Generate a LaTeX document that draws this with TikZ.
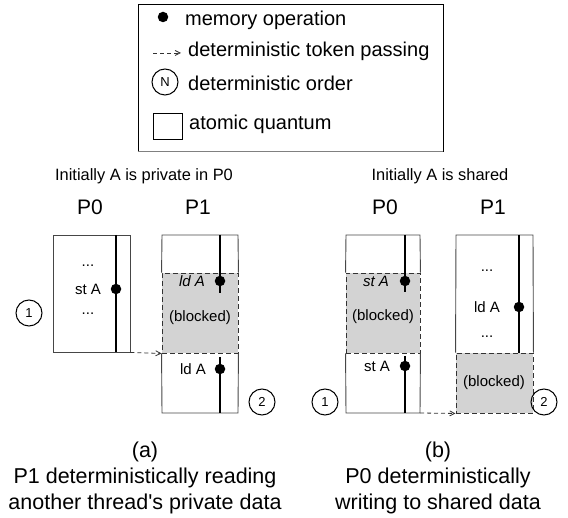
\documentclass[tikz,border=0pt]{standalone}
\usepackage{fontspec}
\setmainfont{Liberation Sans}
\newfontfamily\plainsans{Liberation Sans}
\usetikzlibrary{arrows.meta}
\definecolor{blkgray}{RGB}{211,211,211}
\definecolor{edge}{RGB}{70,70,70}
\begin{document}
\begin{tikzpicture}[x=1pt,y=-1pt,
  boxline/.style={draw=edge, line width=0.9pt},
  thread/.style={line width=1.8pt},
  blockbox/.style={fill=blkgray, draw=black!80, line width=0.9pt, dash pattern=on 5pt off 3pt, inner sep=0pt},
  plainbox/.style={inner sep=0pt},
  opdot/.style={circle, fill=black, inner sep=0pt, minimum size=10.5pt},
  order/.style={circle, draw, line width=1pt, inner sep=0pt, minimum size=26pt, font=\fontsize{13}{15}\selectfont},
  token/.style={draw=black!80, line width=0.8pt, dash pattern=on 4pt off 3pt, -{Straight Barb[length=5pt,width=5pt]}},
  legtxt/.style={anchor=base west, inner sep=0pt, font=\fontsize{20}{24}\selectfont},
  optxt/.style={inner sep=0pt, font=\fontsize{15}{18}\selectfont},
  head/.style={anchor=base, inner sep=0pt, font=\fontsize{16.4}{20}\selectfont},
  proc/.style={anchor=base, inner sep=0pt, font=\fontsize{21}{25}\selectfont},
  capt/.style={anchor=base, inner sep=0pt, font=\plainsans\fontsize{21.5}{26}\selectfont}]
\useasboundingbox (0,0) rectangle (568,518);

% ---------- legend ----------
\node[draw=black, line width=0.9pt, inner sep=0pt, minimum width=305pt, minimum height=147pt] (legend) at (290.5,77.5) {};
\draw[draw=gray, line width=1.6pt] (legend.south west) -- (legend.south east);
\node[opdot] (ldot) at (163,17) {};
\node[legtxt] (lt1) at (185,26) {memory operation};
\coordinate (la1) at (153,53);
\coordinate (la2) at (181,53);
\draw[token] (la1) -- (la2);
\node[legtxt] (lt2) at (188,57) {deterministic token passing};
\node[order] (lN) at (165,82) {N};
\node[legtxt] (lt3) at (188,91) {deterministic order};
\node[draw=black, line width=0.9pt, inner sep=0pt, minimum width=29pt, minimum height=26pt] (lsq) at (167.5,126) {};
\node[legtxt] (lt4) at (189,130) {atomic quantum};

% ---------- (a) ----------
\node[head] (ha) at (144,181) {Initially A is private in P0};
\node[proc] (pa0) at (90,215) {P0};
\node[proc] (pa1) at (198,215) {P1};

% P0 box
\node[boxline, plainbox, minimum width=77pt, minimum height=117pt] (p0a) at (91.5,293.5) {};
\draw[thread] (116,235) -- (116,352);
\node[opdot] (d0a) at (116,289) {};
\node[optxt] (t0a1) at (88,266) {...};
\node[optxt] (t0a2) at (88,289) {st A};
\node[optxt] (t0a3) at (88,314) {...};

% P1 box
\node[blockbox, minimum width=76pt, minimum height=80pt] (bla) at (200,313) {};
\draw[boxline] (bla.north west) -- (162,235) -- (238,235) -- (bla.north east);
\draw[boxline] (bla.south west) -- (162,413) -- (238,413) -- (bla.south east);
\draw[thread] (220,235) -- (220,293);
\draw[thread] (220,357) -- (220,413);
\node[opdot] (d1a1) at (220,281) {};
\node[opdot] (d1a2) at (220,369) {};
\node[optxt, font=\fontsize{15}{18}\selectfont\itshape] (t1a1) at (192,281) {ld A};
\node[optxt] (t1a2) at (200,318) {(blocked)};
\node[optxt] (t1a3) at (193,369) {ld A};

\draw[token] (p0a.south east) -- (bla.south west);
\node[order] (o1a) at (29,313) {1};
\node[order] (o2a) at (262,402) {2};

\node[capt] (ca1) at (145,458) {(a)};
\node[capt] (ca2) at (145,484) {P1 deterministically reading};
\node[capt] (ca3) at (145,510) {another thread's private data};

% ---------- (b) ----------
\node[head] (hb) at (440,181) {Initially A is shared};
\node[proc] (pb0) at (385,215) {P0};
\node[proc] (pb1) at (493,215) {P1};

% P0 box
\node[blockbox, minimum width=74pt, minimum height=80pt] (blb0) at (383,313) {};
\draw[boxline] (blb0.north west) -- (346,235) -- (420,235) -- (blb0.north east);
\draw[boxline] (blb0.south west) -- (346,413) -- (420,413) -- (blb0.south east);
\coordinate (p0bse) at (420,413);
\draw[thread] (405,235) -- (405,292);
\draw[thread] (405,356) -- (405,413);
\node[opdot] (d0b1) at (405,281) {};
\node[opdot] (d0b2) at (405,366) {};
\node[optxt, font=\fontsize{15}{18}\selectfont\itshape] (t0b1) at (376,281) {st A};
\node[optxt] (t0b2) at (383,317) {(blocked)};
\node[optxt] (t0b3) at (377,366) {st A};

% P1 box
\node[blockbox, minimum width=77pt, minimum height=60pt] (blb1) at (494.5,383) {};
\draw[boxline] (blb1.north west) -- (456,235) -- (533,235) -- (blb1.north east);
\draw[thread] (519,235) -- (519,353);
\node[opdot] (d1b) at (519,307) {};
\node[optxt] (t1b1) at (487,271) {...};
\node[optxt] (t1b2) at (487,307) {ld A};
\node[optxt] (t1b3) at (487,337) {...};
\node[optxt] (t1b4) at (494,383) {(blocked)};

\draw[token] (p0bse) -- (blb1.south west);
\node[order] (o1b) at (325,402) {1};
\node[order] (o2b) at (544,402) {2};

\node[capt] (cb1) at (438,458) {(b)};
\node[capt] (cb2) at (438,484) {P0 deterministically};
\node[capt] (cb3) at (438,510) {writing to shared data};
\end{tikzpicture}
\end{document}
